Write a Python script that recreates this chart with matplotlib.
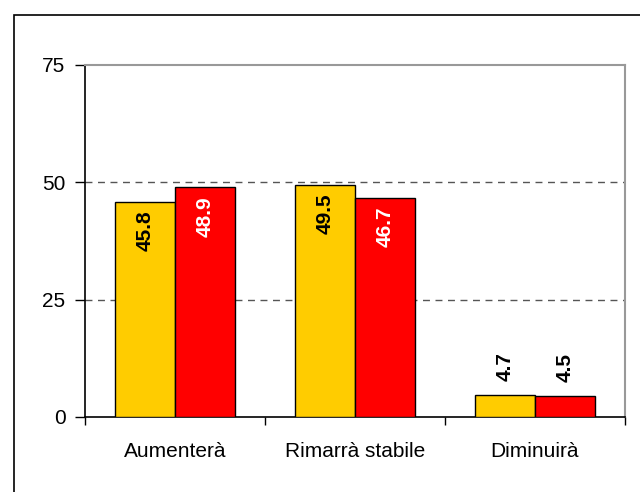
import matplotlib.pyplot as plt
import numpy as np
from matplotlib.patches import Rectangle

plt.rcParams['font.family'] = ['Liberation Sans', 'DejaVu Sans']

categories = ['Aumenterà', 'Rimarrà stabile', 'Diminuirà']
serie1 = [45.8, 49.5, 4.7]
serie2 = [48.9, 46.7, 4.5]
yticks = [0, 25, 50, 75]

fig = plt.figure(figsize=(6.4, 4.92), dpi=100)
# outer chart border
fig.patches.append(Rectangle((14 / 640, 1 - 600 / 492), 1, 585 / 492, transform=fig.transFigure,
                             fill=False, edgecolor='black', linewidth=1.2))
ax = fig.add_axes([85 / 640, 1 - 417 / 492, 540 / 640, 352 / 492])

x = np.arange(len(categories))
w = 1 / 3
ax.bar(x - w / 2, serie1, w, color='#FFCC00', edgecolor='black', linewidth=1, zorder=3)
ax.bar(x + w / 2, serie2, w, color='#FF0000', edgecolor='black', linewidth=1, zorder=3)

lab = dict(rotation=90, ha='center', fontsize=15, fontweight='bold', zorder=4)
for i, (v1, v2) in enumerate(zip(serie1, serie2)):
    if v1 > 20:
        ax.text(x[i] - w / 2, v1 - 1.8, f'{v1:.1f}', va='top', color='black', **lab)
        ax.text(x[i] + w / 2, v2 - 1.8, f'{v2:.1f}', va='top', color='white', **lab)
    else:
        ax.text(x[i] - w / 2, v1 + 3, f'{v1:.1f}', va='bottom', color='black', **lab)
        ax.text(x[i] + w / 2, v2 + 3, f'{v2:.1f}', va='bottom', color='black', **lab)

ax.set_xlim(-0.5, 2.5)
ax.set_ylim(0, 75)
ax.set_yticks(yticks)
ax.set_yticklabels([str(t) for t in yticks], fontsize=15)
for t in [25, 50]:
    ax.axhline(t, color='#555555', linestyle=(0, (5, 4)), linewidth=1, zorder=1)

ax.set_xticks(x)
ax.set_xticklabels(categories, fontsize=15)
ax.tick_params(axis='x', length=0, pad=18)
ax.set_xticks([-0.5, 0.5, 1.5, 2.5], minor=True)
ax.tick_params(axis='x', which='minor', length=6, direction='out', width=1)
ax.tick_params(axis='y', length=7, direction='out', width=1, pad=7)

for s in ['top', 'right']:
    ax.spines[s].set_color('#999999')
    ax.spines[s].set_linewidth(1.5)
ax.spines['left'].set_linewidth(1.2)
ax.spines['bottom'].set_linewidth(1.2)

plt.savefig('out.png', dpi=100)
